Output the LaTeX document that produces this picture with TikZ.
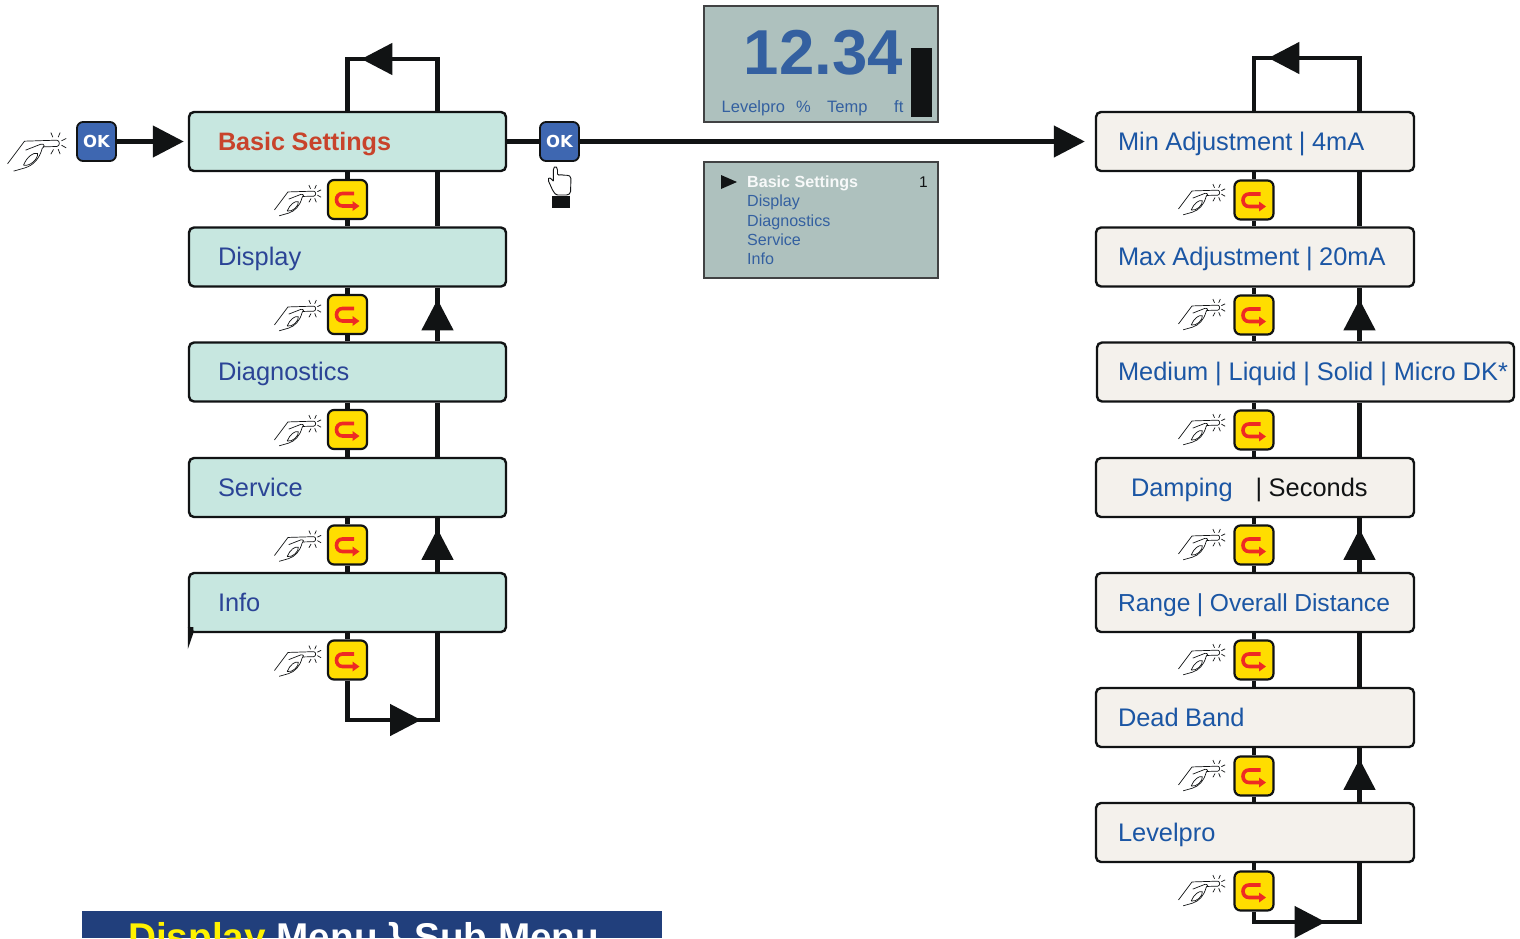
\documentclass[tikz,border=0pt]{standalone}
\usepackage{fontspec}
\setmainfont{Liberation Sans}
\newfontfamily\keyfont{DejaVu Sans}
\usetikzlibrary{arrows.meta,decorations.markings}

\definecolor{inkblack}{HTML}{111314}
\definecolor{menufill}{HTML}{C7E7E0}
\definecolor{subfill}{HTML}{F4F1EC}
\definecolor{menublue}{HTML}{2B4496}
\definecolor{subblue}{HTML}{1B56A4}
\definecolor{titlered}{HTML}{C8432B}
\definecolor{lcdfill}{HTML}{AEC1BE}
\definecolor{lcdblue}{HTML}{3460A0}
\definecolor{okblue}{HTML}{3E67B1}
\definecolor{keyyellow}{HTML}{FFDD00}
\definecolor{keyred}{HTML}{EE2A24}
\definecolor{bannerblue}{HTML}{213F7C}

\tikzset{
    bigtip/.tip={Triangle[length=31pt,width=31pt]},
    flowline/.style={draw=inkblack, line width=4.5pt},
    midtip/.style={postaction={decorate}, decoration={markings, mark=at position #1 with {\arrow[inkblack]{bigtip}}}},
    rowbox/.style={draw=inkblack, line width=2.4pt, rounded corners=5pt, inner sep=0pt, align=left,
        minimum height=59pt, text height=22pt, text depth=5pt, font=\fontsize{25.4}{28}\selectfont,
        execute at begin node={\spaceskip=6.5pt\relax}},
    menubox/.style={rowbox, fill=menufill, text=menublue, text width=317pt,
        execute at begin node={\hspace*{29pt}}},
    subbox/.style={rowbox, fill=subfill, text=subblue, text width=#1},
    subbox/.default=318pt,
    okkey/.style={draw=inkblack, line width=1.8pt, fill=okblue, rounded corners=6pt, minimum size=39pt, inner sep=0pt,
        text=white, font=\keyfont\fontsize{16.5}{18}\bfseries\selectfont},
    backkey/.style={draw=inkblack, line width=2.2pt, fill=keyyellow, rounded corners=6pt, minimum size=39pt, inner sep=0pt},
    lcd/.style={draw=inkblack!80, line width=1.2pt, fill=lcdfill, minimum width=234pt, minimum height=116pt, inner sep=0pt},
    lcdtext/.style={text=lcdblue, inner sep=0pt, anchor=base west, font=\fontsize{16.1}{16}\selectfont},
    readtext/.style={lcdtext, font=\fontsize{16.5}{16}\selectfont},
    pics/handpress/.style={code={
        \begin{scope}[shift={(-175,-122)}, inkblack, line width=0.7pt]
            \draw (22,186) -- (73,118) -- (170,115) .. controls (180,116) and (180,133) .. (170,134) -- (128,135);
            \draw (76,145) -- (122,127) .. controls (134,125) and (134,135) .. (126,140) .. controls (118,170) and (100,190) .. (75,198) -- (40,208);
            \draw (70,190) .. controls (80,165) and (100,150) .. (112,155) .. controls (115,170) and (90,195) .. (70,190);
            \draw (152,92) -- (158,106) (180,92) -- (174,106) (198,110) -- (184,117);
            \draw (198,138) -- (184,130) (180,157) -- (174,142) (152,157) -- (160,143);
        \end{scope}
    }},
    pics/uturn/.style={code={
        \draw[keyred, line width=3.6pt] (6.5,-6) -- (-5,-6) .. controls (-13,-6) and (-13,6.5) .. (-5,6.5) -- (6,6.5);
        \fill[keyred] (5,1.5) -- (12,6.5) -- (5,11.5) -- cycle;
    }},
}

\begin{document}
\begin{tikzpicture}[x=1pt, y=-1pt]
    \useasboundingbox (0, 0) rectangle (1520, 938);

    % main menu column
    \node[menubox, text=titlered, font=\fontsize{25.2}{28}\bfseries\selectfont] (basic) at (347.5, 141.5) {Basic Settings};
    \node[menubox] (display) at (347.5, 257) {Display};
    \node[menubox] (diag) at (347.5, 372) {Diagnostics};
    \node[menubox] (service) at (347.5, 487.5) {Service};
    \node[menubox] (info) at (347.5, 602.5) {Info};
    \fill[inkblack] (info.south west) ++(0, -6) -- ++(0, 22) -- ++(5.5, -16) -- ++(0, -6) -- cycle;

    % sub menu column
    \node[subbox] (min) at (1255, 141.5) {\hspace*{22pt}Min Adjustment | 4mA};
    \node[subbox] (max) at (1255, 257) {\hspace*{22pt}Max Adjustment | 20mA};
    \node[subbox=417pt] (medium) at (1305.5, 372) {\spaceskip=6.9pt\relax\hspace*{21pt}Medium | Liquid | Solid | Micro DK*};
    \node[subbox] (damping) at (1255, 487.5) {\hspace*{35pt}Damping\hspace*{23pt}\textcolor{inkblack}{| Seconds}};
    \node[subbox, font=\fontsize{24.6}{28}\selectfont] (range) at (1255, 602.5) {\hspace*{22pt}Range | Overall Distance};
    \node[subbox] (dead) at (1255, 717.5) {\hspace*{22pt}Dead Band};
    \node[subbox] (levelpro) at (1255, 832.5) {\hspace*{22pt}Levelpro};

    % keys
    \node[okkey] (okstart) at (96.5, 141.5) {OK};
    \node[okkey] (okenter) at (559.5, 141.5) {OK};
    \foreach \name/\yy in {a/199.5, b/314.5, c/429.5, d/545, e/660} {
        \node[backkey] (left\name) at (347.5, \yy) {};
        \pic at (left\name.center) {uturn};
        \pic[scale=0.265] at ([xshift=-32.5pt, yshift=6.5pt]left\name.center) {handpress};
    }
    \foreach \name/\yy in {a/200, b/315, c/430, d/545, e/660, f/776, g/891} {
        \node[backkey] (right\name) at (1254, \yy) {};
        \pic at (right\name.center) {uturn};
        \pic[scale=0.265] at ([xshift=-35pt, yshift=8pt]right\name.center) {handpress};
    }
    \pic[scale=0.333] at ([xshift=-38pt, yshift=-1pt]okstart.center) {handpress};

    % return lines
    \coordinate (lret) at (437.5, 59);
    \coordinate (rret) at (1359.5, 58);
    \coordinate (lfoot) at (437.5, 720);
    \coordinate (rfoot) at (1359.5, 922);

    % connectors, main menu
    \draw[flowline, midtip=128pt] (basic.north -| lret) -- (lret) -- (lret -| basic.north) -- (basic.north);
    \draw[flowline] (basic.south) -- (lefta.north) (lefta.south) -- (display.north);
    \draw[flowline] (display.south) -- (leftb.north) (leftb.south) -- (diag.north);
    \draw[flowline] (diag.south) -- (leftc.north) (leftc.south) -- (service.north);
    \draw[flowline] (service.south) -- (leftd.north) (leftd.south) -- (info.north);
    \draw[flowline] (info.south) -- (lefte.north);
    \draw[flowline, midtip=113pt] (lefte.south) -- (lefte.south |- lfoot) -- (lfoot) -- (info.south -| lfoot);
    \draw[flowline] (basic.south -| lret) -- (display.north -| lret);
    \draw[flowline, midtip=42pt] (diag.north -| lret) -- (display.south -| lret);
    \draw[flowline] (diag.south -| lret) -- (service.north -| lret);
    \draw[flowline, midtip=43pt] (info.north -| lret) -- (service.south -| lret);

    % connectors, sub menu
    \draw[flowline, midtip=144pt] (min.north -| rret) -- (rret) -- (rret -| righta.north) -- (min.north -| righta.north);
    \draw[flowline] (min.south -| righta.north) -- (righta.north) (righta.south) -- (max.north -| righta.south);
    \draw[flowline] (max.south -| rightb.north) -- (rightb.north) (rightb.south) -- (medium.north -| rightb.south);
    \draw[flowline] (medium.south -| rightc.north) -- (rightc.north) (rightc.south) -- (damping.north -| rightc.south);
    \draw[flowline] (damping.south -| rightd.north) -- (rightd.north) (rightd.south) -- (range.north -| rightd.south);
    \draw[flowline] (range.south -| righte.north) -- (righte.north) (righte.south) -- (dead.north -| righte.south);
    \draw[flowline] (dead.south -| rightf.north) -- (rightf.north) (rightf.south) -- (levelpro.north -| rightf.south);
    \draw[flowline] (levelpro.south -| rightg.north) -- (rightg.north);
    \draw[flowline, midtip=82pt] (rightg.south) -- (rightg.south |- rfoot) -- (rfoot) -- (levelpro.south -| rfoot);
    \draw[flowline] (min.south -| rret) -- (max.north -| rret);
    \draw[flowline, midtip=42pt] (medium.north -| rret) -- (max.south -| rret);
    \draw[flowline] (medium.south -| rret) -- (damping.north -| rret);
    \draw[flowline, midtip=43pt] (range.north -| rret) -- (damping.south -| rret);
    \draw[flowline] (range.south -| rret) -- (dead.north -| rret);
    \draw[flowline, midtip=43pt] (levelpro.north -| rret) -- (dead.south -| rret);

    % connectors, enter
    \draw[flowline, -{bigtip}, shorten >=4pt, inkblack] (okstart.east) -- (basic.west);
    \draw[flowline] (basic.east) -- (okenter.west);
    \draw[flowline, -{bigtip}, shorten >=10pt, inkblack] (okenter.east) -- (min.west);

    % pressed finger under the enter key
    \draw[inkblack, fill=white, line width=0.9pt, rounded corners=1.5pt] (553.3, 181) -- (553.3, 168.5) -- (555.4, 166) -- (557.5, 168.5) -- (557.5, 175.5)
        -- (561, 174.5) -- (564.5, 175.5) -- (568, 175) -- (571, 177) -- (570.5, 193) -- (568, 195)
        -- (556, 195) -- (553, 191) -- (548, 180) -- (549, 177) -- (553.3, 181);
    \node[fill=inkblack, minimum width=18pt, minimum height=12pt, inner sep=0pt] (pressmark) at (561, 202) {};

    % reading display
    \node[lcd] (reading) at (821, 64) {};
    \node[text=lcdblue, inner sep=0pt, anchor=base east, font=\fontsize{63.5}{64}\bfseries\selectfont] (value) at (903, 74) {12.34};
    \node[fill=inkblack, minimum width=21pt, minimum height=69pt, inner sep=0pt] (bar) at (921.5, 82.5) {};
    \node[readtext] (lvl) at (721.5, 112.5) {Levelpro};
    \node[readtext] (pct) at (796, 112.5) {\%};
    \node[readtext] (temp) at (827, 112.5) {Temp};
    \node[readtext] (ft) at (894, 112.5) {ft};

    % menu display
    \node[lcd] (menulcd) at (821, 220) {};
    \fill[inkblack] (721, 175) -- (737, 182) -- (721, 189) -- cycle;
    \node[lcdtext, text=white!90!lcdfill, font=\fontsize{16.1}{16}\bfseries\selectfont] (m1) at (747, 187) {Basic Settings};
    \node[lcdtext] (m2) at (747, 206) {Display};
    \node[lcdtext] (m3) at (747, 226) {Diagnostics};
    \node[lcdtext] (m4) at (747, 245) {Service};
    \node[lcdtext] (m5) at (747, 264) {Info};
    \node[lcdtext, text=inkblack, font=\fontsize{15.5}{16}\selectfont] (m6) at (919, 187) {1};

    % banner, runs off the page
    \node[fill=bannerblue, minimum width=580pt, minimum height=27pt, inner sep=0pt] (banner) at (372, 924.5) {};
    \node[inner sep=0pt, anchor=base west, text=white, font=\fontsize{38.7}{40}\bfseries\selectfont] (bannertext) at (128, 950) {\textcolor{yellow}{Display} Menu \} Sub Menu};
\end{tikzpicture}
\end{document}
